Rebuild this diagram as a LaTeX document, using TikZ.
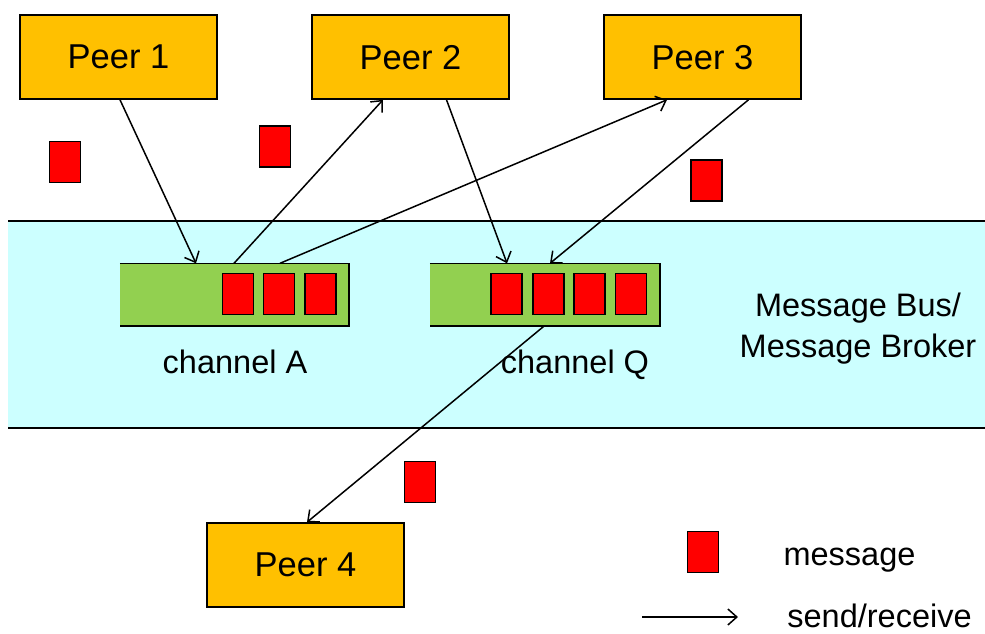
\documentclass[tikz,border=0pt]{standalone}
\usepackage{fontspec}
\setmainfont{Liberation Sans}
\usetikzlibrary{arrows.meta}
\definecolor{peerfill}{HTML}{FFC000}
\definecolor{busfill}{HTML}{CCFFFF}
\definecolor{chanfill}{HTML}{92D050}
\definecolor{msgfill}{HTML}{FF0000}
\tikzset{
  peer/.style={draw=black, line width=1.6pt, fill=peerfill, minimum width=197pt, minimum height=84pt, inner sep=0pt, text depth=0pt, font=\fontsize{34.5}{40}\selectfont},
  msg/.style={draw=black, line width=1.6pt, fill=msgfill, minimum width=31pt, minimum height=41pt, inner sep=0pt},
  chan/.style={fill=chanfill, minimum height=62pt, inner sep=0pt},
  chanedge/.style={line width=1.6pt},
  lbl/.style={font=\fontsize{32.5}{41}\selectfont, anchor=base, inner sep=0pt},
  flow/.style={line width=1.5pt, -{Straight Barb[length=9pt,width=16pt,line width=1.5pt]}}
}
\begin{document}
\begin{tikzpicture}[x=1pt,y=-1pt]
\useasboundingbox (0,0) rectangle (985,633);
% bus band
\fill[busfill] (8,221) rectangle (985,428);
\draw[line width=1.5pt] (8,221) -- (985,221);
\draw[line width=1.5pt] (8,428) -- (985,428);
% peers
\node[peer] (p1) at (118.5,57) {Peer 1};
\node[peer] (p2) at (410.5,57) {Peer 2};
\node[peer] (p3) at (702.5,57) {Peer 3};
\node[peer] (p4) at (305.5,565) {Peer 4};
% channels
\node[chan, minimum width=229pt] (chA) at (234.5,294.5) {};
\draw[chanedge] (chA.north west) -- (chA.north east) -- (chA.south east) -- (chA.south west);
\node[chan, minimum width=230pt] (chQ) at (545,294.5) {};
\draw[chanedge] (chQ.north west) -- (chQ.north east) -- (chQ.south east) -- (chQ.south west);
% messages in channel A
\node[msg] (a1) at (238,294) {};
\node[msg] (a2) at (279,294) {};
\node[msg] (a3) at (320.5,294) {};
% messages in channel Q
\node[msg] (q1) at (506.5,294) {};
\node[msg] (q2) at (548.5,294) {};
\node[msg] (q3) at (589.5,294) {};
\node[msg] (q4) at (631,294) {};
% loose messages
\node[msg] (m1) at (65,162) {};
\node[msg] (m2) at (275,146.5) {};
\node[msg] (m3) at (706.5,180.5) {};
\node[msg] (m4) at (420,482) {};
\node[msg] (mleg) at (703,552) {};
% labels
\node[lbl] (lA) at (235,373) {channel A};
\node[lbl] (lQ) at (575,373) {channel Q};
\node[lbl, align=center] (lbus) at (858,357) {Message Bus/\\Message Broker};
\node[lbl] (lmsg) at (849.5,565) {message};
\node[lbl] (lsr) at (879.5,627) {send/receive};
% connectors
\draw[flow] ([xshift=1.5pt]p1.south) -- ([xshift=-38.5pt]chA.north);
\draw[flow] ([xshift=-0.5pt]chA.north) -- ([xshift=-27.5pt]p2.south);
\draw[flow] ([xshift=45.5pt]chA.north) -- ([xshift=-35.5pt]p3.south);
\draw[flow] ([xshift=36pt]p2.south) -- ([xshift=-38pt]chQ.north);
\draw[flow] ([xshift=46pt]p3.south) -- ([xshift=5pt]chQ.north);
\draw[flow] ([xshift=-0.5pt]chQ.south) -- ([xshift=1.5pt]p4.north);
% legend arrow
\coordinate (legs) at (642,617);
\coordinate (lege) at (738,617);
\draw[flow] (legs) -- (lege);
\end{tikzpicture}
\end{document}
